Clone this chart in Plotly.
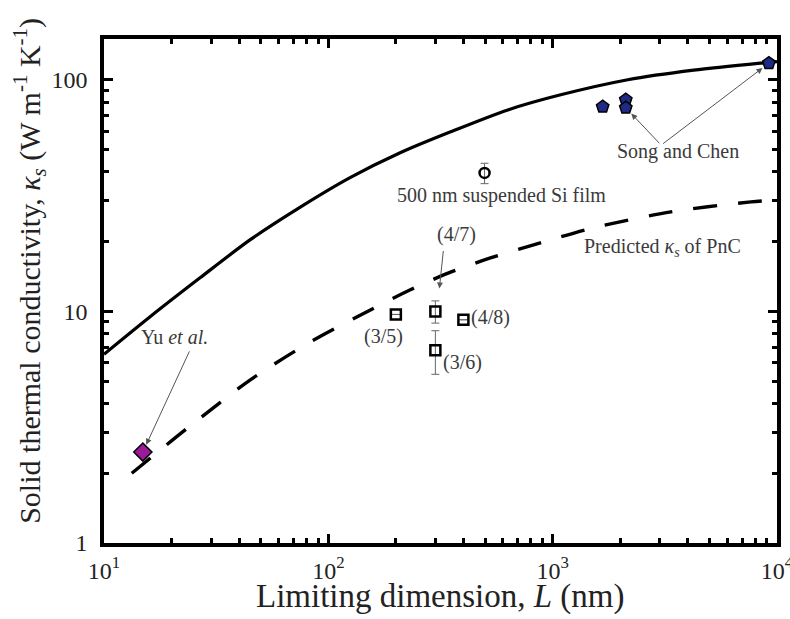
import numpy as np
import plotly.graph_objects as go

# ---- data ----
solid_L = [10, 16.0, 26.8, 44.9, 75.0, 125, 209, 351, 631, 1086, 2163, 4256, 8490, 10000]
solid_k = [6.53, 9.46, 13.96, 20.4, 28.2, 37.8, 48.4, 59.6, 74.1, 86.1, 100, 110, 118, 119.7]

pnc_L = [13.3, 24.2, 44.9, 83.2, 154, 232, 344, 528, 822, 1524, 3365, 7656, 10000]
pnc_k = [2.00, 3.20, 5.06, 7.38, 10.14, 12.39, 14.66, 17.02, 19.36, 22.96, 26.9, 29.7, 30.3]

yu_L = [14.9]
yu_k = [2.47]

song_L = [1671, 2118, 2118, 9200]
song_k = [76.5, 82, 75.7, 118]

film_L = [497]
film_k = [39.6]
film_err = [4.0]

pnc_exp_L = [200, 300, 300, 400]
pnc_exp_k = [9.7, 10.0, 6.8, 9.2]
pnc_exp_err = [0.0, 1.1, 1.45, 0.0]

x_tickvals = [10, 100, 1000, 10000]
x_ticktext = ["10<sup>1</sup>", "10<sup>2</sup>", "10<sup>3</sup>", "10<sup>4</sup>"]
y_tickvals = [1, 10, 100]
y_ticktext = ["1", "10", "100"]
minor_digits = [2, 3, 4, 5, 6, 7, 8, 9]
x_decades = [10, 100, 1000]
y_decades = [1, 10]

x_title = "Limiting dimension, <i>L</i> (nm)"
y_title = "Solid thermal conductivity, <i>κ<sub>s</sub></i> (W m<sup>-1</sup> K<sup>-1</sup>)"

FONT = "Liberation Serif, Times New Roman, Times, serif"

fig = go.Figure()

fig.add_trace(go.Scatter(x=solid_L, y=solid_k, mode="lines",
                         line=dict(color="black", width=3.2, shape="spline", smoothing=0.8),
                         showlegend=False, hoverinfo="skip"))
fig.add_trace(go.Scatter(x=pnc_L, y=pnc_k, mode="lines",
                         line=dict(color="black", width=3.4, dash="24px,21px", shape="spline", smoothing=0.8),
                         showlegend=False, hoverinfo="skip"))

fig.add_trace(go.Scatter(x=yu_L, y=yu_k, mode="markers",
                         marker=dict(symbol="diamond", size=14, color="#9a1a98", line=dict(color="black", width=1.5)),
                         showlegend=False))
fig.add_trace(go.Scatter(x=song_L, y=song_k, mode="markers",
                         marker=dict(symbol="pentagon", size=13, color="#1f2a85", line=dict(color="black", width=1.5)),
                         showlegend=False, cliponaxis=False))
fig.add_trace(go.Scatter(x=film_L, y=film_k, mode="markers",
                         error_y=dict(type="data", array=film_err, color="#666", thickness=1, width=4),
                         marker=dict(symbol="circle-open", size=10, color="black", line=dict(width=2.5)),
                         showlegend=False))
fig.add_trace(go.Scatter(x=pnc_exp_L, y=pnc_exp_k, mode="markers",
                         error_y=dict(type="data", array=pnc_exp_err, color="#666", thickness=1, width=4),
                         marker=dict(symbol="square-open", size=10, color="black", line=dict(width=2.5)),
                         showlegend=False))

lg = np.log10
annots = []
txt_font = dict(family=FONT, size=20, color="#3a3a3a")

# text labels (text, L, kappa)
labels = [
    ("Yu <i>et al.</i>", 20.7, 7.76),
    ("500 nm suspended Si film", 592, 31.8),
    ("Song and Chen", 3614, 48.9),
    ("Predicted <i>κ<sub>s</sub></i> of PnC", 3097, 18.8),
    ("(4/7)", 372, 21.4),
    ("(3/5)", 176, 7.76),
    ("(4/8)", 529, 9.37),
    ("(3/6)", 396, 6.0),
]
for t, xL, yk in labels:
    annots.append(dict(x=lg(xL), y=lg(yk), xref="x", yref="y", text=t, showarrow=False,
                       font=txt_font, xanchor="center", yanchor="middle"))

# arrows: (tail L, tail kappa, tip L, tip kappa)
arrows = [
    (24.2, 6.82, yu_L[0], yu_k[0]),
    (3034, 52.4, song_L[2], song_k[2]),
    (3060, 52.4, song_L[3], song_k[3]),
    (326, 18.5, 310, 11.6),
]
for axL, ayk, xL, yk in arrows:
    annots.append(dict(x=lg(xL), y=lg(yk), ax=lg(axL), ay=lg(ayk), xref="x", yref="y", axref="x", ayref="y",
                       text="", showarrow=True, arrowhead=2, arrowsize=1.2, arrowwidth=1,
                       arrowcolor="#555", standoff=8))

# axis titles as paper annotations
annots.append(dict(x=0.5, y=-0.106, xref="paper", yref="paper", showarrow=False,
                   text=x_title, xanchor="center", yanchor="middle",
                   font=dict(family=FONT, size=33, color="#222")))
annots.append(dict(x=-0.11, y=0.54, xref="paper", yref="paper", showarrow=False, textangle=-90,
                   text=y_title, xanchor="center", yanchor="middle",
                   font=dict(family=FONT, size=30, color="#222")))

tickfont = dict(family=FONT, size=24, color="#222")


def axis(tickvals, ticktext, minorvals, rng, standoff):
    return dict(
        type="log", range=rng, showgrid=False, zeroline=False, showline=True, linecolor="black", linewidth=3.5,
        mirror="ticks", ticks="inside", ticklen=9, tickwidth=2.5, tickcolor="black",
        tickmode="array", tickvals=tickvals, ticktext=ticktext, tickfont=tickfont,
        ticklabeloverflow="allow", automargin=False, ticklabelstandoff=standoff,
        minor=dict(ticks="inside", ticklen=5, tickwidth=2.5, tickcolor="black", showgrid=False,
                   tickmode="array", tickvals=minorvals),
    )


minor_x = [m * d for d in x_decades for m in minor_digits]
minor_y = [m * d for d in y_decades for m in minor_digits]

fig.update_layout(
    width=790, height=619,
    margin=dict(l=104, r=13, t=39, b=76),
    paper_bgcolor="white", plot_bgcolor="white",
    font=dict(family=FONT),
    xaxis=axis(x_tickvals, x_ticktext, minor_x, [1, 4], 3),
    yaxis=axis(y_tickvals, y_ticktext, minor_y, [0, 2.176], 8),
    annotations=annots,
)

fig.write_html("out.html", config={"displayModeBar": False})

# remove the default page margin so the figure sits at the window's top-left corner
with open("out.html", encoding="utf-8") as f:
    html = f.read()
html = html.replace("<head>", "<head><style>html,body{margin:0;padding:0;overflow:hidden;}</style>", 1)
with open("out.html", "w", encoding="utf-8") as f:
    f.write(html)
